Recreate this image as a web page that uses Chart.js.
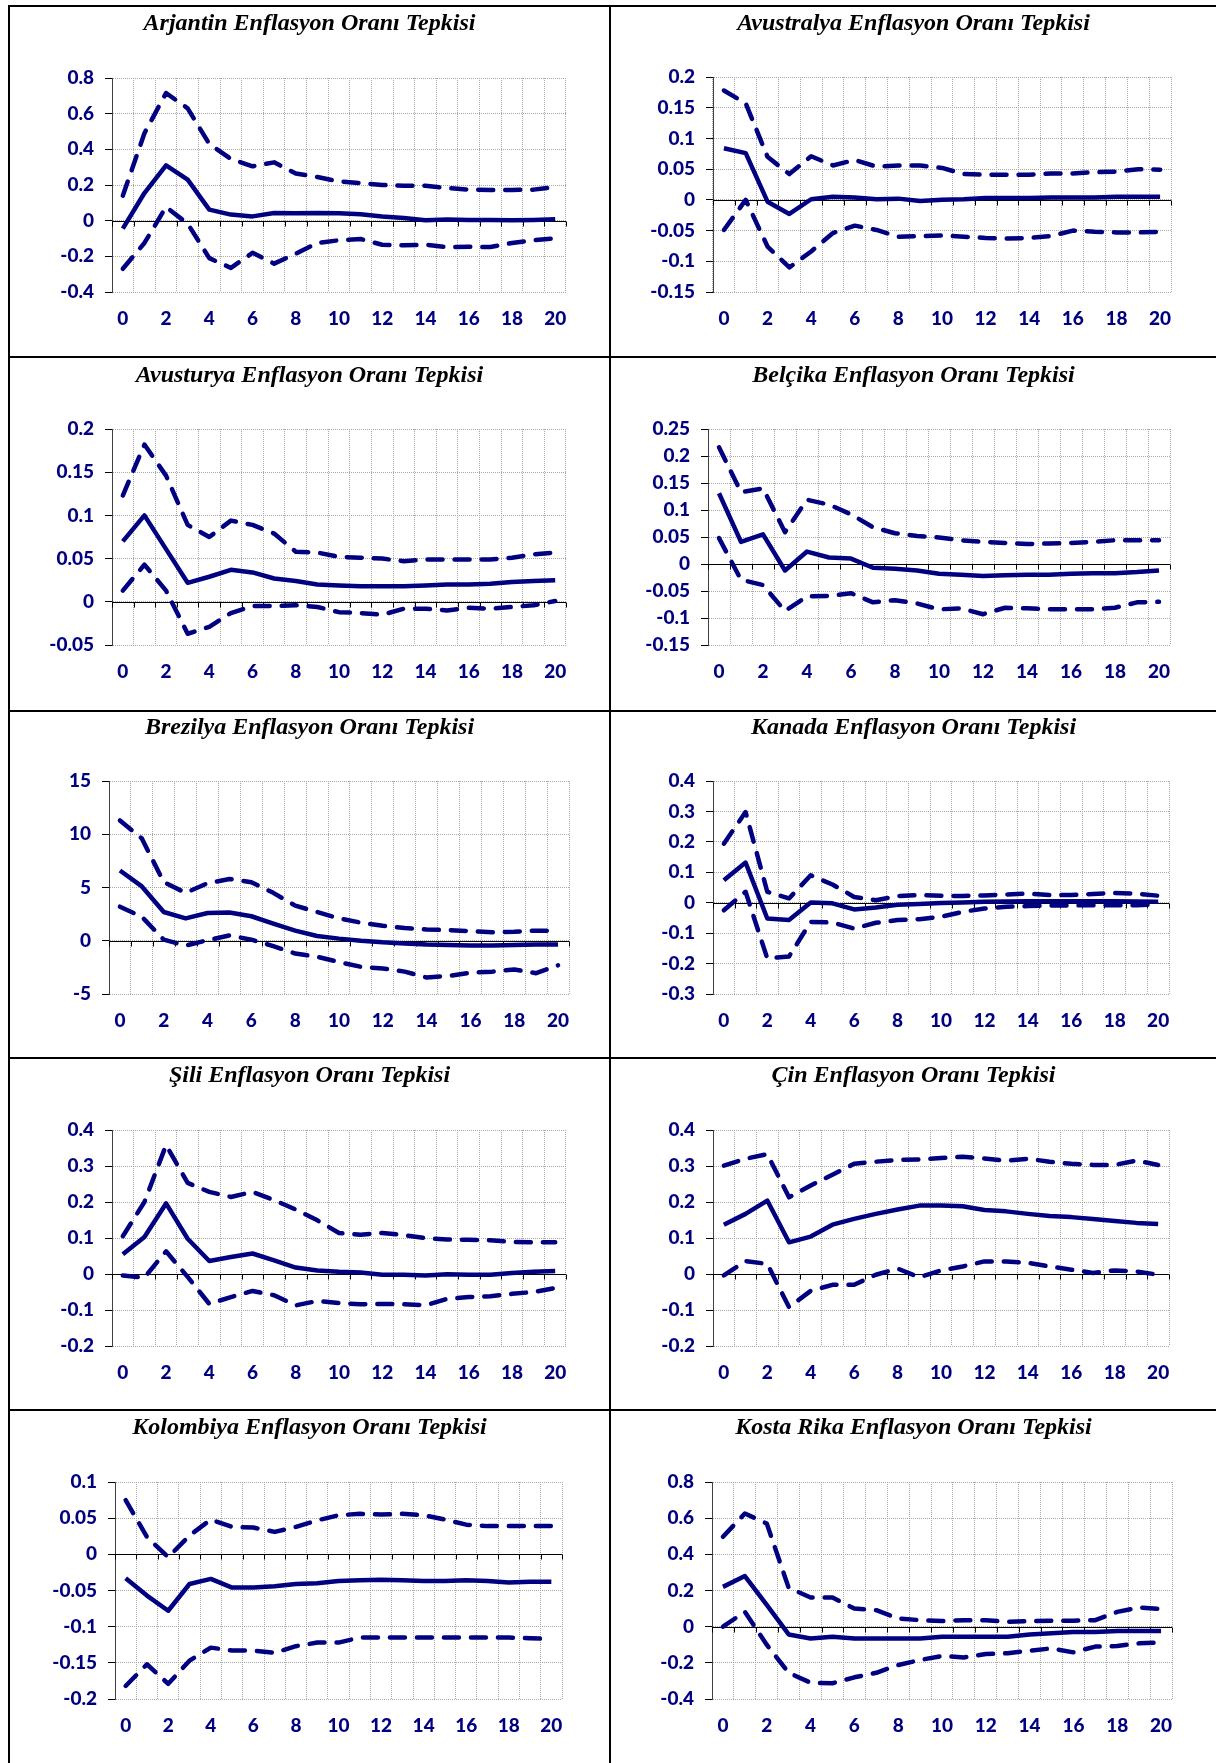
<!DOCTYPE html>
<html>
<head>
<meta charset="utf-8">
<script src="https://cdn.jsdelivr.net/npm/chart.js@4.4.1/dist/chart.umd.min.js"></script>
<style>
html, body { margin: 0; padding: 0; background: #fff; }
#page { position: relative; width: 1216px; height: 1763px; overflow: hidden; }
.cell { position: absolute; }
.rule { position: absolute; background: #000; z-index: 2; }
.ttl {
    position: absolute; z-index: 3; text-align: center; white-space: nowrap;
    font: italic bold 24px/24px 'Liberation Serif', 'Times New Roman', serif; color: #000;
}
</style>
</head>
<body>
<div id="page"></div>
<script>
// periods after the shock
const steps = ['0', '1', '2', '3', '4', '5', '6', '7', '8', '9', '10', '11', '12', '13', '14', '15', '16', '17', '18', '19', '20'];

// Arjantin
const argMid = [-0.045, 0.155, 0.31, 0.23, 0.062, 0.034, 0.024, 0.043, 0.041, 0.043, 0.041, 0.036, 0.024, 0.015, 0.002, 0.006, 0.004, 0.004, 0.002, 0.004, 0.008];
const argUp = [0.14, 0.49, 0.716, 0.63, 0.43, 0.346, 0.305, 0.327, 0.264, 0.245, 0.22, 0.211, 0.2, 0.196, 0.196, 0.183, 0.174, 0.172, 0.172, 0.174, 0.189];
const argLow = [-0.27, -0.125, 0.077, -0.017, -0.21, -0.265, -0.18, -0.241, -0.185, -0.125, -0.11, -0.103, -0.135, -0.138, -0.135, -0.148, -0.146, -0.148, -0.125, -0.11, -0.099];
const argAxis = [-0.4, 0.8, 0.2];

// Avustralya
const ausMid = [0.084, 0.076, -0.003, -0.023, 0.001, 0.005, 0.004, 0.001, 0.002, -0.002, 0, 0.001, 0.003, 0.003, 0.003, 0.004, 0.004, 0.004, 0.005, 0.005, 0.005];
const ausUp = [0.178, 0.157, 0.07, 0.042, 0.071, 0.056, 0.065, 0.054, 0.056, 0.056, 0.052, 0.042, 0.041, 0.041, 0.041, 0.043, 0.043, 0.045, 0.046, 0.05, 0.049];
const ausLow = [-0.049, 0, -0.076, -0.11, -0.084, -0.054, -0.042, -0.049, -0.06, -0.059, -0.058, -0.06, -0.062, -0.063, -0.062, -0.059, -0.05, -0.052, -0.053, -0.053, -0.052];
const ausAxis = [-0.15, 0.2, 0.05];

// Avusturya
const autMid = [0.07, 0.1, 0.061, 0.022, 0.029, 0.037, 0.034, 0.027, 0.024, 0.02, 0.019, 0.018, 0.018, 0.018, 0.019, 0.02, 0.02, 0.021, 0.023, 0.024, 0.025];
const autUp = [0.123, 0.182, 0.146, 0.089, 0.075, 0.094, 0.089, 0.079, 0.058, 0.057, 0.052, 0.051, 0.05, 0.047, 0.049, 0.049, 0.049, 0.049, 0.051, 0.055, 0.057];
const autLow = [0.013, 0.043, 0.013, -0.037, -0.029, -0.013, -0.005, -0.005, -0.004, -0.006, -0.012, -0.013, -0.015, -0.008, -0.008, -0.01, -0.007, -0.008, -0.006, -0.004, 0.001];
const autAxis = [-0.05, 0.2, 0.05];

// Belçika
const belMid = [0.131, 0.041, 0.055, -0.012, 0.023, 0.012, 0.01, -0.007, -0.009, -0.012, -0.018, -0.02, -0.022, -0.021, -0.02, -0.02, -0.018, -0.017, -0.017, -0.015, -0.012];
const belUp = [0.216, 0.133, 0.14, 0.059, 0.119, 0.11, 0.092, 0.068, 0.057, 0.052, 0.049, 0.044, 0.041, 0.039, 0.037, 0.038, 0.039, 0.041, 0.044, 0.044, 0.044];
const belLow = [0.048, -0.029, -0.039, -0.087, -0.06, -0.059, -0.054, -0.071, -0.067, -0.073, -0.084, -0.082, -0.093, -0.081, -0.082, -0.084, -0.084, -0.084, -0.081, -0.071, -0.07];
const belAxis = [-0.15, 0.25, 0.05];

// Brezilya
const braMid = [6.6, 5.1, 2.7, 2.1, 2.6, 2.65, 2.3, 1.6, 0.95, 0.45, 0.2, 0, -0.15, -0.25, -0.35, -0.4, -0.45, -0.45, -0.4, -0.35, -0.35];
const braUp = [11.3, 9.6, 5.5, 4.5, 5.4, 5.8, 5.5, 4.5, 3.3, 2.7, 2.1, 1.7, 1.4, 1.2, 1.05, 1.0, 0.9, 0.8, 0.85, 0.95, 0.95];
const braLow = [3.2, 2.25, 0.1, -0.45, 0.05, 0.5, 0.1, -0.5, -1.2, -1.5, -2.0, -2.45, -2.6, -2.9, -3.45, -3.3, -3.0, -2.9, -2.7, -3.05, -2.3];
const braAxis = [-5, 15, 5];

// Kanada
const kanMid = [0.074, 0.132, -0.052, -0.057, 0.001, -0.002, -0.022, -0.016, -0.007, -0.004, -0.001, 0.001, 0.003, 0.004, 0.005, 0.005, 0.005, 0.005, 0.005, 0.004, 0.003];
const kanUp = [0.194, 0.298, 0.036, 0.014, 0.09, 0.06, 0.019, 0.008, 0.022, 0.025, 0.023, 0.022, 0.024, 0.027, 0.03, 0.025, 0.025, 0.029, 0.032, 0.03, 0.023];
const kanLow = [-0.025, 0.036, -0.183, -0.177, -0.063, -0.065, -0.085, -0.066, -0.057, -0.054, -0.046, -0.03, -0.019, -0.013, -0.011, -0.009, -0.009, -0.008, -0.008, -0.008, -0.006];
const kanAxis = [-0.3, 0.4, 0.1];

// Şili
const silMid = [0.055, 0.103, 0.196, 0.098, 0.036, 0.047, 0.057, 0.038, 0.018, 0.01, 0.006, 0.004, -0.002, -0.002, -0.004, -0.001, -0.002, -0.002, 0.003, 0.006, 0.008];
const silUp = [0.105, 0.2, 0.358, 0.253, 0.228, 0.214, 0.228, 0.205, 0.179, 0.149, 0.114, 0.109, 0.114, 0.108, 0.1, 0.096, 0.095, 0.094, 0.089, 0.088, 0.088];
const silLow = [-0.004, -0.01, 0.063, -0.008, -0.083, -0.064, -0.047, -0.059, -0.087, -0.075, -0.081, -0.084, -0.083, -0.084, -0.087, -0.069, -0.064, -0.062, -0.055, -0.05, -0.039];
const silAxis = [-0.2, 0.4, 0.1];

// Çin
const cinMid = [0.137, 0.167, 0.204, 0.088, 0.104, 0.137, 0.153, 0.167, 0.179, 0.19, 0.19, 0.188, 0.178, 0.174, 0.167, 0.161, 0.158, 0.153, 0.147, 0.142, 0.139];
const cinUp = [0.301, 0.32, 0.333, 0.213, 0.246, 0.276, 0.306, 0.312, 0.317, 0.318, 0.322, 0.326, 0.321, 0.315, 0.32, 0.312, 0.306, 0.303, 0.303, 0.315, 0.303];
const cinLow = [-0.004, 0.036, 0.028, -0.092, -0.047, -0.03, -0.03, -0.002, 0.015, -0.009, 0.01, 0.021, 0.035, 0.035, 0.031, 0.021, 0.012, 0.003, 0.01, 0.007, -0.002];
const cinAxis = [-0.2, 0.4, 0.1];

// Kolombiya
const kolMid = [-0.033, -0.057, -0.078, -0.041, -0.034, -0.046, -0.046, -0.044, -0.041, -0.04, -0.037, -0.036, -0.035, -0.036, -0.037, -0.037, -0.036, -0.037, -0.039, -0.038, -0.038];
const kolUp = [0.075, 0.024, -0.004, 0.026, 0.048, 0.038, 0.037, 0.031, 0.038, 0.047, 0.054, 0.056, 0.055, 0.056, 0.054, 0.048, 0.041, 0.039, 0.039, 0.039, 0.039];
const kolLow = [-0.182, -0.152, -0.179, -0.147, -0.129, -0.133, -0.133, -0.136, -0.127, -0.122, -0.122, -0.115, -0.115, -0.115, -0.115, -0.115, -0.115, -0.115, -0.115, -0.116, -0.117];
const kolAxis = [-0.2, 0.1, 0.05];

// Kosta Rika
const kosMid = [0.22, 0.28, 0.12, -0.043, -0.065, -0.056, -0.065, -0.065, -0.065, -0.065, -0.056, -0.056, -0.056, -0.056, -0.043, -0.037, -0.03, -0.03, -0.024, -0.024, -0.024];
const kosUp = [0.497, 0.626, 0.57, 0.215, 0.161, 0.161, 0.1, 0.091, 0.045, 0.036, 0.031, 0.036, 0.036, 0.027, 0.031, 0.033, 0.033, 0.036, 0.082, 0.106, 0.097];
const kosLow = [0, 0.082, -0.1, -0.255, -0.31, -0.313, -0.28, -0.255, -0.212, -0.184, -0.162, -0.17, -0.151, -0.147, -0.133, -0.12, -0.142, -0.11, -0.107, -0.092, -0.088];
const kosAxis = [-0.4, 0.8, 0.2];

const NAVY = '#000080';
const GRID = '#a8a8a8';

// page grid (cells between the black rules)
const cols = [{x: 10, w: 599}, {x: 611, w: 605}];
const rows = [
    {y: 7, h: 349, title: 22},
    {y: 358, h: 352, title: 374},
    {y: 712, h: 345, title: 726},
    {y: 1059, h: 350, title: 1074},
    {y: 1411, h: 352, title: 1426}
];

const panels = [
    {title: 'Arjantin Enflasyon Oranı Tepkisi', mid: argMid, up: argUp, low: argLow, axis: argAxis, col: 0, row: 0, plot: [112, 78, 566, 292]},
    {title: 'Avustralya Enflasyon Oranı Tepkisi', mid: ausMid, up: ausUp, low: ausLow, axis: ausAxis, col: 1, row: 0, plot: [713, 77, 1171, 292]},
    {title: 'Avusturya Enflasyon Oranı Tepkisi', mid: autMid, up: autUp, low: autLow, axis: autAxis, col: 0, row: 1, plot: [112, 429, 566, 645]},
    {title: 'Belçika Enflasyon Oranı Tepkisi', mid: belMid, up: belUp, low: belLow, axis: belAxis, col: 1, row: 1, plot: [708, 429, 1170, 645]},
    {title: 'Brezilya Enflasyon Oranı Tepkisi', mid: braMid, up: braUp, low: braLow, axis: braAxis, col: 0, row: 2, plot: [109, 781, 569, 994]},
    {title: 'Kanada Enflasyon Oranı Tepkisi', mid: kanMid, up: kanUp, low: kanLow, axis: kanAxis, col: 1, row: 2, plot: [713, 781, 1169, 994]},
    {title: 'Şili Enflasyon Oranı Tepkisi', mid: silMid, up: silUp, low: silLow, axis: silAxis, col: 0, row: 3, plot: [112, 1130, 566, 1346]},
    {title: 'Çin Enflasyon Oranı Tepkisi', mid: cinMid, up: cinUp, low: cinLow, axis: cinAxis, col: 1, row: 3, plot: [713, 1130, 1169, 1346]},
    {title: 'Kolombiya Enflasyon Oranı Tepkisi', mid: kolMid, up: kolUp, low: kolLow, axis: kolAxis, col: 0, row: 4, plot: [115, 1482, 562, 1699]},
    {title: 'Kosta Rika Enflasyon Oranı Tepkisi', mid: kosMid, up: kosUp, low: kosLow, axis: kosAxis, col: 1, row: 4, plot: [712, 1482, 1172, 1699]}
];

// zero line with small tick marks at the category boundaries (Excel style)
const zeroAxis = {
    id: 'zeroAxis',
    beforeDatasetsDraw(chart) {
        const {ctx, chartArea, scales: {x, y}} = chart;
        const y0 = Math.round(y.getPixelForValue(0)) + 0.5;
        const half = (x.getPixelForValue(1) - x.getPixelForValue(0)) / 2;
        ctx.save();
        ctx.strokeStyle = '#000';
        ctx.lineWidth = 1;
        ctx.beginPath();
        ctx.moveTo(chartArea.left, y0);
        ctx.lineTo(chartArea.right, y0);
        for (let i = 0; i <= steps.length; i++) {
            const px = Math.round(x.getPixelForValue(i) - half) + 0.5;
            ctx.moveTo(px, y0);
            ctx.lineTo(px, y0 + 5);
        }
        ctx.stroke();
        ctx.restore();
    }
};

const page = document.getElementById('page');

function rule(x, y, w, h) {
    const d = document.createElement('div');
    d.className = 'rule';
    d.style.left = x + 'px';
    d.style.top = y + 'px';
    d.style.width = w + 'px';
    d.style.height = h + 'px';
    page.appendChild(d);
}
rule(8, 5, 1208, 2);
rule(8, 356, 1208, 2);
rule(8, 710, 1208, 2);
rule(8, 1057, 1208, 2);
rule(8, 1409, 1208, 2);
rule(8, 5, 2, 1758);
rule(609, 5, 2, 1758);

const tickFont = {family: 'Lato', size: 19, weight: '900'};

function lineSet(values, dashed) {
    return {
        data: values,
        borderColor: NAVY,
        borderWidth: 4.5,
        borderDash: dashed ? [15, 12] : [],
        borderCapStyle: dashed ? 'round' : 'butt',
        borderJoinStyle: 'round',
        pointRadius: 0,
        tension: 0,
        fill: false
    };
}

panels.forEach(function (p) {
    const c = cols[p.col], r = rows[p.row];
    const [L, T, R, B] = p.plot;

    const head = document.createElement('div');
    head.className = 'ttl';
    head.style.left = c.x + 'px';
    head.style.width = c.w + 'px';
    head.style.top = (r.title - 12) + 'px';
    head.textContent = p.title;
    page.appendChild(head);

    const box = document.createElement('div');
    box.className = 'cell';
    box.style.left = c.x + 'px';
    box.style.top = r.y + 'px';
    const canvas = document.createElement('canvas');
    canvas.width = c.w;
    canvas.height = r.h;
    canvas.style.width = c.w + 'px';
    canvas.style.height = r.h + 'px';
    box.appendChild(canvas);
    page.appendChild(box);

    new Chart(canvas.getContext('2d'), {
        type: 'line',
        data: {
            labels: steps,
            datasets: [lineSet(p.up, true), lineSet(p.low, true), lineSet(p.mid, false)]
        },
        options: {
            responsive: false,
            animation: false,
            devicePixelRatio: 1,
            layout: {padding: {left: 0, top: T - r.y, right: c.x + c.w - R, bottom: 0}},
            plugins: {
                legend: {display: false},
                tooltip: {enabled: false},
                title: {display: false}
            },
            scales: {
                x: {
                    type: 'category',
                    offset: true,
                    grid: {offset: true, drawTicks: false, color: GRID, lineWidth: 1},
                    border: {display: false, dash: [1, 1]},
                    ticks: {
                        autoSkip: false,
                        maxRotation: 0,
                        padding: 15,
                        color: NAVY,
                        font: tickFont,
                        callback: function (v, i) { return i % 2 === 0 ? steps[i] : ''; }
                    },
                    afterFit: function (s) { s.height = r.y + r.h - B; }
                },
                y: {
                    min: p.axis[0],
                    max: p.axis[1],
                    ticks: {
                        stepSize: p.axis[2],
                        padding: 11,
                        color: NAVY,
                        font: tickFont,
                        callback: function (v) { return String(Math.round(v * 1000) / 1000); }
                    },
                    grid: {color: GRID, lineWidth: 1, tickLength: 7, tickColor: '#000'},
                    border: {display: true, color: '#404040', width: 1, dash: [1, 1]},
                    afterFit: function (s) { s.width = L - c.x; }
                }
            }
        },
        plugins: [zeroAxis]
    });
});
</script>
</body>
</html>
